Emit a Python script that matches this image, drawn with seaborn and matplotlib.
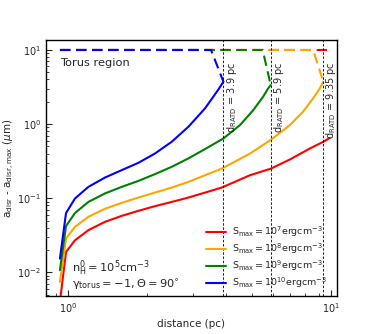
import numpy as np
import pandas as pd
import matplotlib
matplotlib.use("Agg")
import matplotlib.pyplot as plt
import seaborn as sns

# ── Data ──
s_labels = [
    r"$\rm S_{max} = 10^{7} erg cm^{-3}$",
    r"$\rm S_{max} = 10^{8} erg cm^{-3}$",
    r"$\rm S_{max} = 10^{9} erg cm^{-3}$",
    r"$\rm S_{max} = 10^{10} erg cm^{-3}$",
]
colors = ["red", "orange", "green", "blue"]

# a_disr (solid)
d_red = [0.932, 0.983, 1.063, 1.195, 1.383, 1.6, 1.852, 2.14, 2.48, 2.87, 3.32, 3.84,
         4.92, 5.9, 6.98, 8.33, 9.35, 9.9]
a_red = [0.004, 0.0188, 0.027, 0.037, 0.048, 0.0577, 0.0675, 0.078, 0.089, 0.102, 0.119, 0.139,
         0.204, 0.25, 0.333, 0.47, 0.577, 0.65]

d_orange = [0.932, 0.983, 1.063, 1.195, 1.383, 1.6, 1.852, 2.14, 2.48, 2.87, 3.32, 3.84,
            4.92, 5.9, 6.98, 7.83, 8.55, 9.07, 9.35]
a_orange = [0.0074, 0.0285, 0.041, 0.056, 0.072, 0.0865, 0.102, 0.119, 0.139, 0.166, 0.204, 0.25,
            0.40, 0.61, 0.97, 1.47, 2.22, 3.03, 3.73]

d_green = [0.932, 0.983, 1.063, 1.195, 1.383, 1.6, 1.852, 2.14, 2.48, 2.87, 3.32, 3.9,
           4.51, 5.07, 5.52, 5.77, 5.9]
a_green = [0.0107, 0.042, 0.063, 0.089, 0.116, 0.142, 0.171, 0.211, 0.265, 0.344, 0.46, 0.64,
           0.97, 1.55, 2.34, 3.03, 3.37]

d_blue = [0.932, 0.983, 1.063, 1.195, 1.383, 1.6, 1.852, 2.14, 2.48, 2.87, 3.32, 3.72, 3.9]
a_blue = [0.0153, 0.063, 0.099, 0.142, 0.19, 0.239, 0.30, 0.40, 0.577, 0.92, 1.63, 2.88, 3.73]

# a_disr,max (dashed): flat at 10 um, then drops to meet a_disr at d_RATD
dmax_red = [0.932, 10.0]
amax_red = [10.0, 10.0]
dmax_orange = [0.932, 8.55, 9.35]
amax_orange = [10.0, 10.0, 3.73]
dmax_green = [0.932, 5.5, 5.9]
amax_green = [10.0, 10.0, 3.37]
dmax_blue = [0.932, 3.5, 3.9]
amax_blue = [10.0, 10.0, 3.73]

d_ratd = [3.9, 5.9, 9.35]
d_ratd_labels = ["3.9", "5.9", "9.35"]

solid = [(d_red, a_red), (d_orange, a_orange), (d_green, a_green), (d_blue, a_blue)]
dashed = [(dmax_red, amax_red), (dmax_orange, amax_orange),
          (dmax_green, amax_green), (dmax_blue, amax_blue)]

sns.set_style("ticks")
plt.rcParams["font.family"] = ["DejaVu Sans"]
plt.rcParams["mathtext.fontset"] = "dejavusans"

fig = plt.figure(figsize=(3.74, 3.34), dpi=100)
ax = fig.add_axes([0.123, 0.114, 0.778, 0.766])

for (d, a), (dm, am), c, lab in zip(solid, dashed, colors, s_labels):
    sns.lineplot(x=d, y=a, color=c, lw=1.5, label=lab, ax=ax, sort=False)
    sns.lineplot(x=dm, y=am, color=c, lw=1.5, linestyle=(0, (5, 2.7)), ax=ax, sort=False)

for d, lab in zip(d_ratd, d_ratd_labels):
    ax.axvline(d, color="black", lw=0.6, ls=(0, (3, 2)))
    ax.text(d * 1.01, 6.9, r"$\rm d_{RATD}$ = " + lab + " pc", rotation=90,
            ha="left", va="top", fontsize=7)

ax.set_xscale("log")
ax.set_yscale("log")
ax.set_xlim(0.825, 1.054e1)
ax.set_ylim(0.0048, 13.6)

ax.text(0.048, 0.9, "Torus region", transform=ax.transAxes, fontsize=8.2)
ax.text(0.09, 0.095, r"$\rm n_H^0 = 10^5 cm^{-3}$", transform=ax.transAxes, fontsize=8.2)
ax.text(0.09, 0.03, r"$\rm \gamma_{torus} = -1, \Theta = 90^{\circ}$",
        transform=ax.transAxes, fontsize=8.2)

ax.set_xlabel("distance (pc)", fontsize=7.5, labelpad=3)
ax.set_ylabel(r"$\rm a_{disr}$ - $\rm a_{disr,max}$ ($\mu$m)", fontsize=7.5, labelpad=0.5)
ax.tick_params(which="both", direction="in", labelsize=7, top=False, right=False)
ax.tick_params(which="major", length=4, width=0.8)
ax.tick_params(which="minor", length=2, width=0.6)
for sp in ax.spines.values():
    sp.set_linewidth(1.0)
    sp.set_color("black")

ax.legend(loc="lower right", frameon=False, fontsize=6.8, handlelength=2.2,
          handletextpad=0.6, borderaxespad=0.2, labelspacing=0.25,
          bbox_to_anchor=(0.985, 0.0))

fig.savefig("out.png", dpi=100)
plt.close(fig)
